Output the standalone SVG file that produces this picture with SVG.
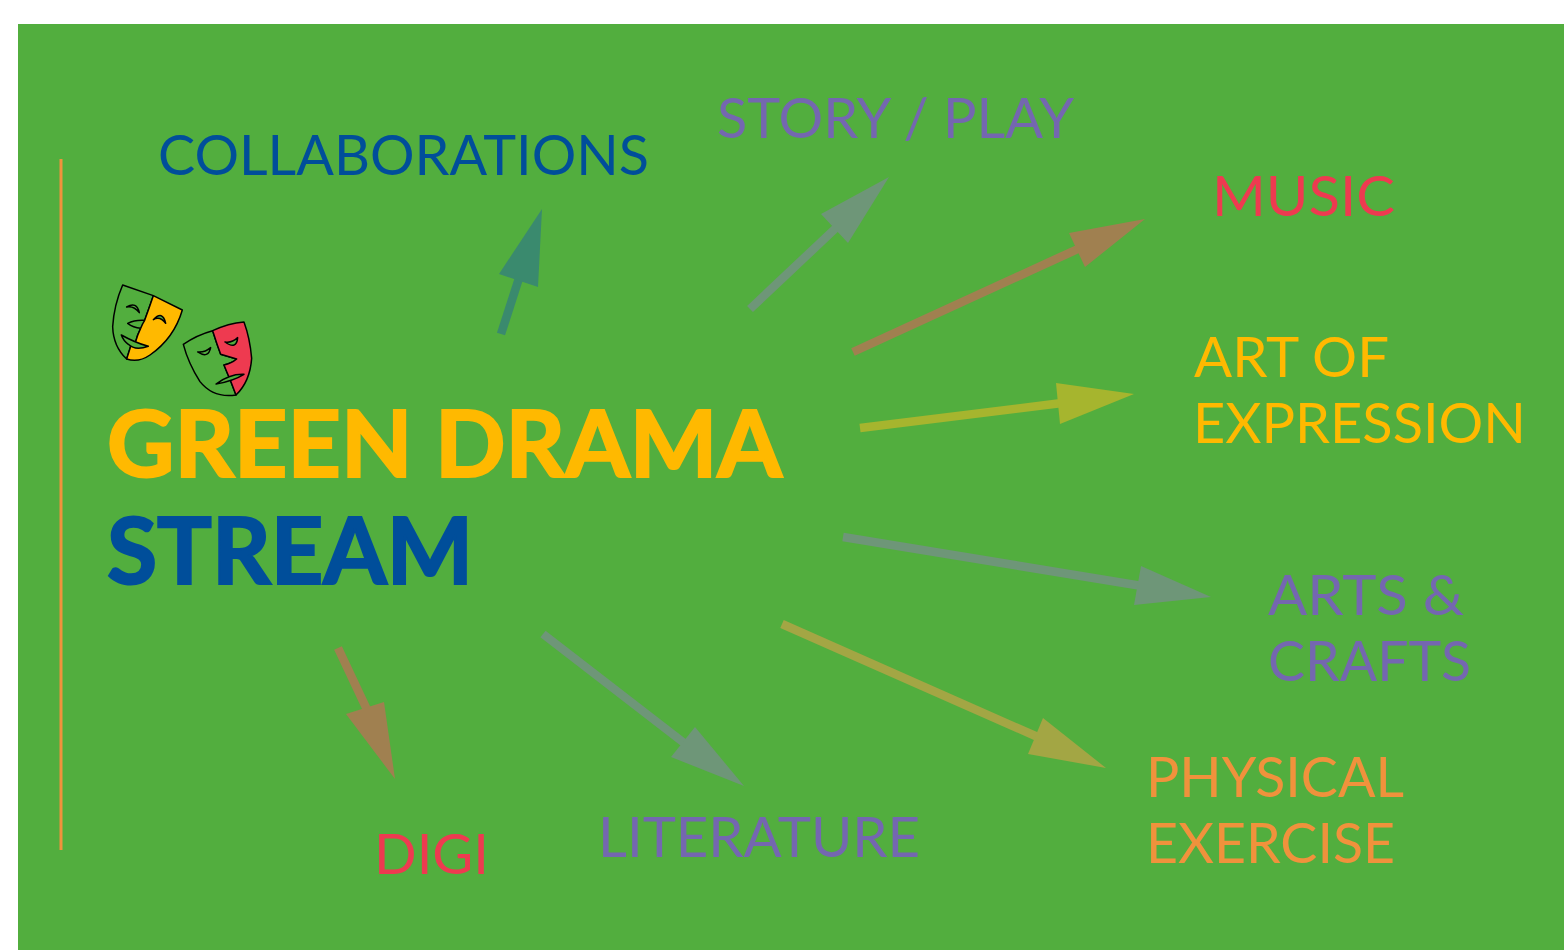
<svg xmlns="http://www.w3.org/2000/svg" width="1564" height="950" viewBox="0 0 1564 950">
<style>
text{font-family:Lato,"Open Sans","Liberation Sans",sans-serif}
.l{font-size:56px}
.t{font-size:92px;font-weight:700;stroke-width:2.2}
.s{stroke-width:8.5;fill:none}
.m{stroke:#000;stroke-width:4.5;stroke-linejoin:round}
.gr{stroke:#6e9678;fill:#6e9678}
.br{stroke:#a08050;fill:#a08050}
</style>
<rect width="1564" height="950" fill="#fff"/>
<rect x="18" y="24" width="1546" height="926" fill="#52ae3e"/>
<line x1="61" y1="159" x2="61" y2="850" stroke="#f0923c" stroke-width="3"/>
<g id="connectors">
<g stroke="#3a8a6e" fill="#3a8a6e"><line class="s" x1="501" y1="334" x2="521" y2="272"/><polygon stroke="none" points="542,209 499,274 538,287"/></g>
<g class="gr"><line class="s" x1="750" y1="309" x2="838" y2="226"/><polygon stroke="none" points="889,177 821,214 848,243"/></g>
<g class="br"><line class="s" x1="853" y1="352" x2="1080" y2="248"/><polygon stroke="none" points="1145,219 1069,233 1085,267"/></g>
<g stroke="#a6b52e" fill="#a6b52e"><line class="s" x1="860" y1="428" x2="1062" y2="403"/><polygon stroke="none" points="1134,394 1056,383 1060,424"/></g>
<g class="gr"><line class="s" x1="843" y1="537" x2="1142" y2="586"/><polygon stroke="none" points="1211,597 1141,566 1134,605"/></g>
<g stroke="#a3a644" fill="#a3a644"><line class="s" x1="782" y1="624" x2="1040" y2="738"/><polygon stroke="none" points="1106,768 1043,718 1028,754"/></g>
<g class="gr"><line class="s" x1="543" y1="634" x2="688" y2="746"/><polygon stroke="none" points="744,786 695,727 671,757"/></g>
<g class="br"><line class="s" x1="338" y1="648" x2="370" y2="716"/><polygon stroke="none" points="395,779 384,702 346,714"/></g>
</g>
<g id="masks" transform="translate(100 275) scale(.3333)">
<path d="M68 30L160 62Q147 100 134 136Q105 134 83 145Q100 158 122 160Q112 180 107 200L95 205L80 252Q40 215 38 155Q42 90 68 30Z" fill="#52ae3e" class="m"/>
<path d="M160 62L247 105Q222 190 150 240Q115 264 80 252L95 205L107 200Q112 180 122 160Q128 145 134 136Q147 100 160 62Z" fill="#ffb900" class="m"/>
<path d="M80 96Q110 78 118 113Q102 92 80 96Z" fill="#52ae3e" class="m"/>
<path d="M160 134Q188 105 197 145Q180 122 160 134Z" fill="#52ae3e" class="m"/>
<path d="M64 180Q105 203 145 214Q105 228 85 208Q70 197 64 180Z" fill="#52ae3e" class="m"/>
<path d="M250 208Q290 180 338 167Q350 205 362 238Q385 245 410 252Q395 265 372 270Q380 290 390 313L408 360Q340 370 300 320Q265 265 250 208Z" fill="#52ae3e" class="m"/>
<path d="M338 167Q385 145 432 141Q450 190 455 250Q450 320 408 360L390 313Q380 290 372 270Q395 265 410 252Q385 245 362 238Q350 205 338 167Z" fill="#ee3a50" class="m"/>
<path d="M293 231Q315 233 332 218Q325 252 293 231Z" fill="#52ae3e" class="m"/>
<path d="M375 201Q395 205 413 188Q410 226 375 201Z" fill="#52ae3e" class="m"/>
<path d="M348 327Q390 296 432 298Q400 318 348 327Z" fill="#52ae3e" class="m"/>
</g>
<g id="title"><text class="t" x="107" y="477" fill="#ffb900" stroke="#ffb900" textLength="675" lengthAdjust="spacingAndGlyphs">GREEN DRAMA</text><text class="t" x="107" y="584" fill="#004e9a" stroke="#004e9a" textLength="366" lengthAdjust="spacingAndGlyphs">STREAM</text></g>
<g id="collaborations"><text class="l" x="158" y="175" fill="#004e9a" textLength="491" lengthAdjust="spacingAndGlyphs">COLLABORATIONS</text></g>
<g id="story"><text class="l" x="717" y="138" fill="#7467b0" textLength="357" lengthAdjust="spacingAndGlyphs">STORY / PLAY</text></g>
<g id="music"><text class="l" x="1212" y="216" fill="#ee3a50" textLength="183" lengthAdjust="spacingAndGlyphs">MUSIC</text></g>
<g id="art"><text class="l" x="1194" y="377" fill="#ffb900" textLength="195" lengthAdjust="spacingAndGlyphs">ART OF</text><text class="l" x="1193" y="443" fill="#ffb900" textLength="333" lengthAdjust="spacingAndGlyphs">EXPRESSION</text></g>
<g id="arts"><text class="l" x="1268" y="615" fill="#7467b0" textLength="196" lengthAdjust="spacingAndGlyphs">ARTS &amp;</text><text class="l" x="1268" y="681" fill="#7467b0" textLength="203" lengthAdjust="spacingAndGlyphs">CRAFTS</text></g>
<g id="physical"><text class="l" x="1146" y="797" fill="#f0923c" textLength="258" lengthAdjust="spacingAndGlyphs">PHYSICAL</text><text class="l" x="1146" y="863" fill="#f0923c" textLength="249" lengthAdjust="spacingAndGlyphs">EXERCISE</text></g>
<g id="literature"><text class="l" x="598" y="857" fill="#7467b0" textLength="322" lengthAdjust="spacingAndGlyphs">LITERATURE</text></g>
<g id="digi"><text class="l" x="374" y="874" fill="#ee3a50" textLength="115" lengthAdjust="spacingAndGlyphs">DIGI</text></g>
</svg>
